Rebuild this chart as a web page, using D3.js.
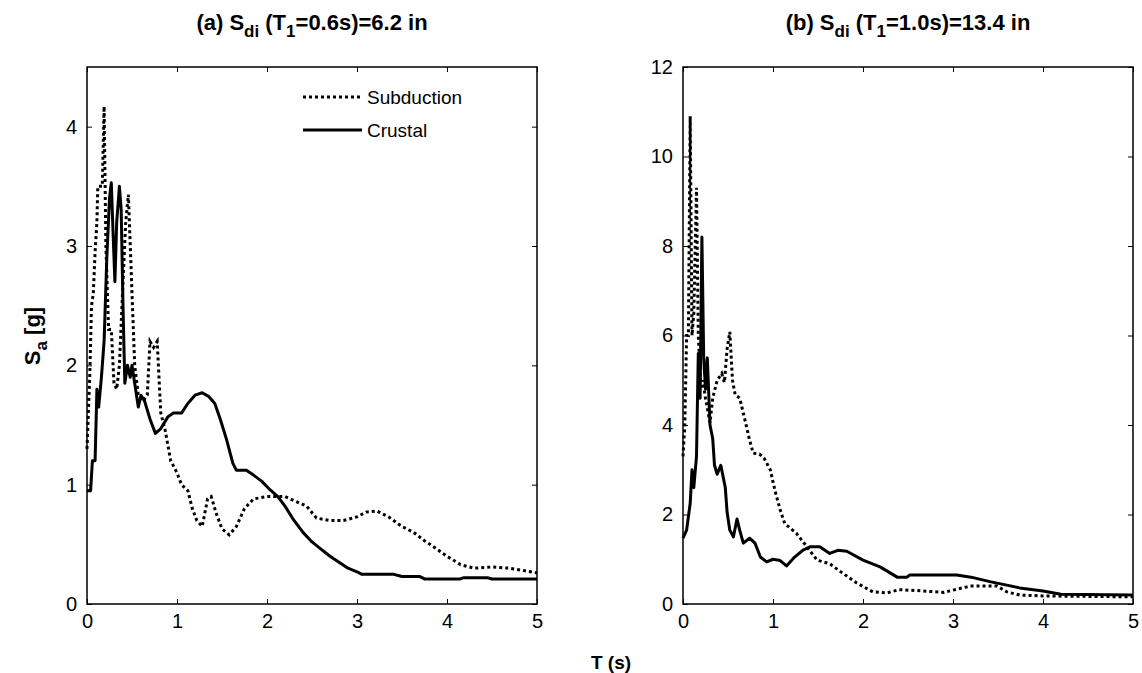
<!DOCTYPE html>
<html>
<head>
<meta charset="utf-8">
<script src="https://cdn.jsdelivr.net/npm/d3@7"></script>
<style>
  body { margin: 0; background: #fff; }
  text { font-family: "Liberation Sans", Arial, sans-serif; fill: #000; }
</style>
</head>
<body>
<script>
// periods (s) and spectral accelerations (g)
const subA_T = [0, 0.03, 0.05, 0.07, 0.09, 0.11, 0.12, 0.15, 0.17, 0.19, 0.21, 0.24, 0.27, 0.3, 0.33, 0.36, 0.4, 0.43, 0.46, 0.5, 0.53, 0.57, 0.62, 0.67, 0.7, 0.74, 0.78, 0.82, 0.87, 0.93, 1.0, 1.05, 1.12, 1.17, 1.22, 1.28, 1.34, 1.38, 1.44, 1.5, 1.58, 1.66, 1.75, 1.85, 2.0, 2.2, 2.35, 2.44, 2.55, 2.7, 2.85, 3.0, 3.1, 3.22, 3.35, 3.5, 3.63, 3.75, 3.85, 4.0, 4.15, 4.3, 4.5, 4.7, 4.85, 5.0];
const subA_Sa = [1.3, 1.9, 2.5, 2.6, 2.95, 3.2, 3.5, 3.5, 3.5, 4.17, 3.0, 2.3, 2.3, 1.85, 1.8, 2.0, 2.7, 3.2, 3.43, 2.6, 2.0, 1.75, 1.7, 1.75, 2.2, 2.15, 2.2, 1.6, 1.45, 1.2, 1.1, 1.0, 0.95, 0.8, 0.7, 0.65, 0.88, 0.9, 0.75, 0.63, 0.58, 0.65, 0.8, 0.88, 0.9, 0.9, 0.85, 0.82, 0.72, 0.7, 0.7, 0.73, 0.77, 0.78, 0.73, 0.65, 0.6, 0.53, 0.48, 0.4, 0.33, 0.3, 0.31, 0.3, 0.28, 0.26];

const cruA_T = [0, 0.04, 0.06, 0.09, 0.11, 0.13, 0.16, 0.19, 0.22, 0.25, 0.27, 0.29, 0.31, 0.33, 0.36, 0.38, 0.4, 0.42, 0.45, 0.48, 0.5, 0.53, 0.57, 0.6, 0.64, 0.7, 0.76, 0.82, 0.9, 0.96, 1.05, 1.12, 1.2, 1.28, 1.35, 1.42, 1.48, 1.55, 1.62, 1.66, 1.77, 1.85, 1.94, 2.03, 2.12, 2.2, 2.3, 2.4, 2.5, 2.6, 2.7, 2.8, 2.9, 3.0, 3.05, 3.4, 3.5, 3.7, 3.75, 4.15, 4.18, 4.45, 4.5, 5.0];
const cruA_Sa = [0.95, 0.95, 1.2, 1.2, 1.8, 1.65, 1.9, 2.2, 2.9, 3.4, 3.53, 3.1, 2.7, 3.2, 3.5, 3.3, 2.5, 1.85, 2.0, 1.9, 2.0, 1.85, 1.65, 1.75, 1.7, 1.55, 1.43, 1.47, 1.57, 1.6, 1.6, 1.68, 1.75, 1.77, 1.74, 1.68, 1.55, 1.38, 1.18, 1.12, 1.12, 1.08, 1.03, 0.96, 0.9, 0.82, 0.7, 0.6, 0.52, 0.46, 0.4, 0.35, 0.3, 0.27, 0.25, 0.25, 0.23, 0.23, 0.21, 0.21, 0.22, 0.22, 0.21, 0.21];

const subB_T = [0, 0.02, 0.04, 0.06, 0.08, 0.1, 0.12, 0.15, 0.17, 0.2, 0.22, 0.25, 0.3, 0.33, 0.38, 0.43, 0.46, 0.49, 0.52, 0.55, 0.58, 0.63, 0.69, 0.74, 0.78, 0.85, 0.9, 0.97, 1.02, 1.08, 1.13, 1.26, 1.38, 1.49, 1.63, 1.78, 1.93, 2.11, 2.27, 2.4, 2.6, 2.9, 3.0, 3.19, 3.49, 3.6, 3.74, 4.0, 4.5, 5.0];
const subB_Sa = [3.3, 4.0, 6.0, 6.0, 10.9, 6.0, 6.5, 9.3, 6.0, 4.8, 5.0, 4.6, 4.05, 4.6, 5.0, 5.15, 4.95, 5.7, 6.08, 5.0, 4.67, 4.6, 4.1, 3.66, 3.37, 3.35, 3.26, 3.0, 2.55, 2.1, 1.8, 1.58, 1.27, 0.98, 0.9, 0.68, 0.47, 0.27, 0.25, 0.32, 0.3, 0.26, 0.31, 0.4, 0.4, 0.27, 0.2, 0.18, 0.17, 0.16];

const cruB_T = [0, 0.04, 0.08, 0.1, 0.12, 0.15, 0.17, 0.19, 0.21, 0.23, 0.25, 0.27, 0.3, 0.33, 0.35, 0.38, 0.42, 0.47, 0.49, 0.52, 0.56, 0.6, 0.63, 0.67, 0.74, 0.8, 0.86, 0.93, 1.0, 1.08, 1.15, 1.23, 1.33, 1.41, 1.52, 1.63, 1.72, 1.82, 2.0, 2.19, 2.38, 2.49, 2.52, 3.04, 3.2, 3.41, 3.74, 4.0, 4.2, 5.0];
const cruB_Sa = [1.47, 1.65, 2.25, 3.0, 2.6, 3.3, 5.6, 4.6, 8.2, 5.5, 4.8, 5.5, 4.0, 3.7, 3.1, 2.9, 3.1, 2.6, 2.05, 1.65, 1.5, 1.9, 1.65, 1.36, 1.47, 1.36, 1.05, 0.94, 1.0, 0.97, 0.85, 1.03, 1.2, 1.28, 1.28, 1.13, 1.2, 1.18, 0.98, 0.83, 0.6, 0.6, 0.65, 0.65, 0.6, 0.5, 0.36, 0.29, 0.22, 0.2];

const xTicks = [0, 1, 2, 3, 4, 5];
const yTicksA = [0, 1, 2, 3, 4];
const yTicksB = [0, 2, 4, 6, 8, 10, 12];

const width = 1142, height = 673;
const svg = d3.select("body").append("svg")
    .attr("width", width)
    .attr("height", height);

const plotTop = 67, plotBottom = 604;

function panel(opts) {
    const x = d3.scaleLinear().domain([0, 5]).range([opts.left, opts.left + 450]);
    const y = d3.scaleLinear().domain([0, opts.ymax]).range([plotBottom, plotTop]);
    const g = svg.append("g");

    // ticks, inward on all four sides
    const axes = [
        [d3.axisBottom(x).tickValues(xTicks).tickFormat(d3.format("d")), `translate(0,${plotBottom})`],
        [d3.axisTop(x).tickValues(xTicks).tickFormat(""), `translate(0,${plotTop})`],
        [d3.axisLeft(y).tickValues(opts.yTicks).tickFormat(d3.format("d")), `translate(${opts.left},0)`],
        [d3.axisRight(y).tickValues(opts.yTicks).tickFormat(""), `translate(${opts.left + 450},0)`]
    ];
    axes.forEach(function(a) {
        const ax = g.append("g").attr("transform", a[1])
            .call(a[0].tickSizeInner(-5).tickSizeOuter(0).tickPadding(10));
        ax.select(".domain").remove();
        ax.selectAll("line").attr("stroke", "#000");
        ax.selectAll("text")
            .style("font-family", '"Liberation Sans", Arial, sans-serif')
            .style("font-size", "20px")
            .attr("fill", "#000");
    });

    const line = d3.line().x(d => x(d[0])).y(d => y(d[1]));

    g.append("path")
        .datum(d3.zip(opts.subT, opts.subSa))
        .attr("d", line)
        .attr("fill", "none")
        .attr("stroke", "#000")
        .attr("stroke-width", 3)
        .attr("stroke-dasharray", "3,3");

    g.append("path")
        .datum(d3.zip(opts.cruT, opts.cruSa))
        .attr("d", line)
        .attr("fill", "none")
        .attr("stroke", "#000")
        .attr("stroke-width", 3)
        .attr("stroke-linejoin", "round");

    g.append("rect")
        .attr("x", opts.left).attr("y", plotTop)
        .attr("width", 450).attr("height", plotBottom - plotTop)
        .attr("fill", "none")
        .attr("stroke", "#000")
        .attr("stroke-width", 1.5);

    // title with subscripts
    const t = g.append("text")
        .attr("x", opts.left + 225).attr("y", 30)
        .attr("text-anchor", "middle")
        .style("font-size", "22px")
        .style("font-weight", "bold");
    t.append("tspan").text(opts.tag + " S");
    t.append("tspan").attr("dy", 7).style("font-size", "17px").text("di");
    t.append("tspan").attr("dy", -7).text(" (T");
    t.append("tspan").attr("dy", 7).style("font-size", "17px").text("1");
    t.append("tspan").attr("dy", -7).text("=" + opts.period + ")=" + opts.sdi);

    return {g: g, x: x, y: y};
}

const a = panel({left: 87, ymax: 4.5, yTicks: yTicksA, subT: subA_T, subSa: subA_Sa,
    cruT: cruA_T, cruSa: cruA_Sa, tag: "(a)", period: "0.6s", sdi: "6.2 in"});
panel({left: 683, ymax: 12, yTicks: yTicksB, subT: subB_T, subSa: subB_Sa,
    cruT: cruB_T, cruSa: cruB_Sa, tag: "(b)", period: "1.0s", sdi: "13.4 in"});

// legend in panel (a)
const legend = [
    {name: "Subduction", dash: "3,3", y: 97},
    {name: "Crustal", dash: null, y: 130}
];
legend.forEach(function(d) {
    a.g.append("line")
        .attr("x1", 303).attr("x2", 362)
        .attr("y1", d.y).attr("y2", d.y)
        .attr("stroke", "#000")
        .attr("stroke-width", 3)
        .attr("stroke-dasharray", d.dash);
    a.g.append("text")
        .attr("x", 367).attr("y", d.y + 7)
        .style("font-size", "19px")
        .text(d.name);
});

// axis labels
const yl = svg.append("text")
    .attr("transform", "translate(40,336) rotate(-90)")
    .attr("text-anchor", "middle")
    .style("font-size", "22px")
    .style("font-weight", "bold");
yl.append("tspan").text("S");
yl.append("tspan").attr("dy", 7).style("font-size", "17px").text("a");
yl.append("tspan").attr("dy", -7).text(" [g]");

svg.append("text")
    .attr("x", 611).attr("y", 669)
    .attr("text-anchor", "middle")
    .style("font-size", "19px")
    .style("font-weight", "bold")
    .text("T (s)");
</script>
</body>
</html>
